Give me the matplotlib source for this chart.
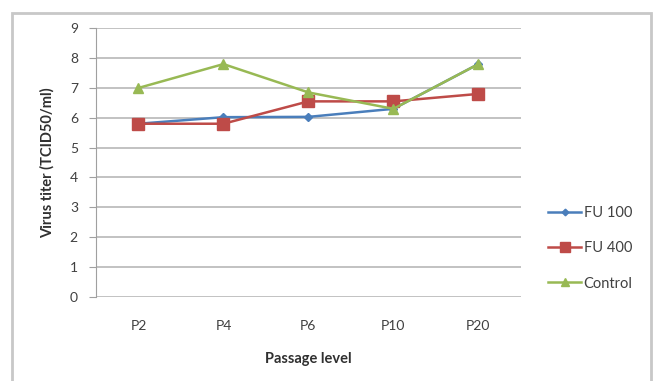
import matplotlib.pyplot as plt
from matplotlib.patches import Rectangle

# passage levels and virus titers (log TCID50/ml)
passages = ["P2", "P4", "P6", "P10", "P20"]
fu100 = [5.8, 6.02, 6.03, 6.3, 7.8]
fu400 = [5.8, 5.8, 6.55, 6.55, 6.8]
control = [7.0, 7.8, 6.85, 6.3, 7.8]

plt.rcParams['font.family'] = ['Lato', 'DejaVu Sans']

fig = plt.figure(figsize=(6.56, 3.81), dpi=100)
ax = fig.add_axes([0.1463, 0.2213, 0.6477, 0.7044])

x = range(len(passages))
ax.plot(x, fu100, color="#4A7EBB", marker="D", markersize=4.5, linewidth=1.8, label="FU 100")
ax.plot(x, fu400, color="#BE4B48", marker="s", markersize=9, linewidth=1.8, label="FU 400")
ax.plot(x, control, color="#98B954", marker="^", markersize=7.5, linewidth=1.8, label="Control")

ax.set_xlim(-0.5, len(passages) - 0.5)
ax.set_ylim(0, 9)
ax.set_yticks(range(10))
ax.set_xticks(list(x))
ax.set_xticklabels(passages)

ax.grid(axis="y", color="#b8b8b8", linewidth=1.2)
ax.set_axisbelow(True)
for s in ["top", "right", "bottom"]:
    ax.spines[s].set_visible(False)
ax.spines["left"].set_color("#a0a0a0")
ax.tick_params(axis="y", length=5, color="#a0a0a0", labelsize=10, labelcolor="#404040", pad=8)
ax.tick_params(axis="x", length=0, labelsize=10, labelcolor="#404040", pad=17)

ax.set_xlabel("Passage level", fontsize=10.5, fontweight="bold", color="#303030", labelpad=14)
ax.set_ylabel("Virus titer (TCID50/ml)", fontsize=10.5, fontweight="bold", color="#303030", labelpad=11)

ax.legend(loc="center left", bbox_to_anchor=(1.05, 0.18), frameon=False, fontsize=10.5,
          handlelength=2.3, handletextpad=0.15, labelspacing=1.45, labelcolor="#404040",
          borderaxespad=0, markerscale=0.75)

# outer chart border
fig.patches.append(Rectangle((12 / 656, -0.05), (651 - 12) / 656, 1.05 - 13 / 381,
                             transform=fig.transFigure, fill=False,
                             edgecolor="#c8c8c8", linewidth=2))

fig.savefig("out.png", dpi=100)
